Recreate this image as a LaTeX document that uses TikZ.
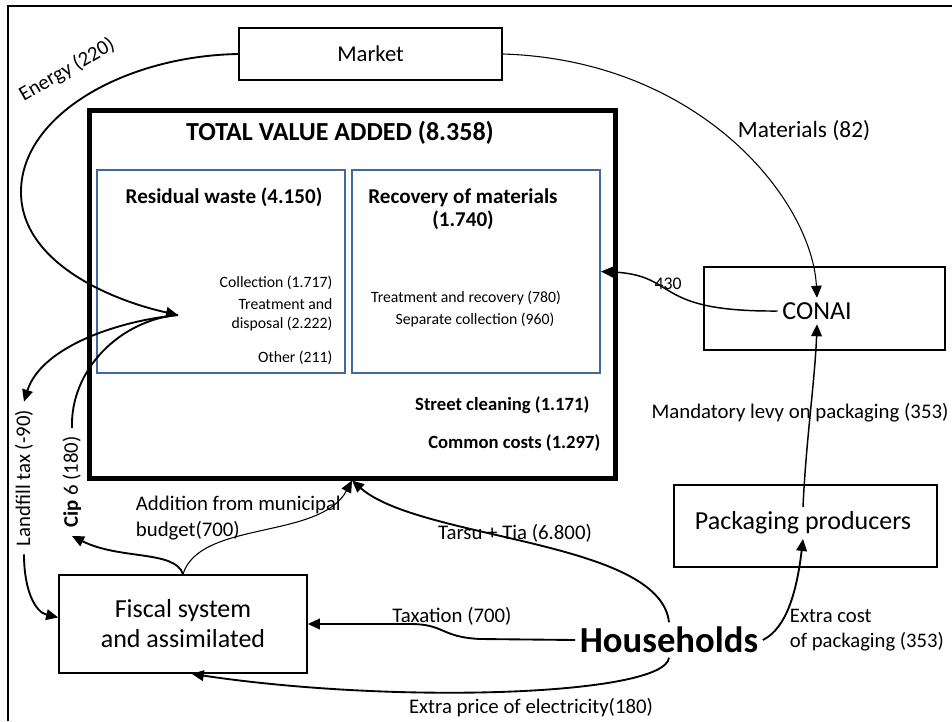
\documentclass[tikz,border=0pt]{standalone}
\usepackage{fontspec}
\setmainfont{Carlito}
\usetikzlibrary{arrows.meta}
\definecolor{boxblue}{RGB}{65,105,160}
\tikzset{
  flow/.style={line width=1.4pt,-{Triangle[length=9pt,width=8pt]}},
  thinflow/.style={line width=0.8pt,-{Triangle[length=9pt,width=8pt]}},
  box/.style={draw,line width=1.1pt,inner sep=0pt},
  subbox/.style={draw=boxblue,line width=1.5pt,minimum width=186pt,minimum height=152.25pt},
  lbl/.style={font=\fontsize{15.6}{20}\selectfont,inner sep=2pt},
  small/.style={font=\fontsize{11.8}{14.25}\selectfont,inner sep=1pt},
  cost/.style={font=\bfseries\fontsize{14}{16}\selectfont,inner sep=1pt,anchor=east},
  big/.style={font=\fontsize{19.5}{22.5}\selectfont},
}
\begin{document}
\begin{tikzpicture}[x=0.75pt,y=-0.75pt]
\useasboundingbox (0,0) rectangle (952,721);
\draw[line width=2.2pt] (8,721) -- (8,6) -- (952,6);

\node[box,minimum width=197.25pt,minimum height=39pt,font=\fontsize{17}{20}\selectfont] (market) at (370.5,54) {Market};

\node[draw,line width=3.75pt,minimum width=394.5pt,minimum height=276pt] (tva) at (352,294) {};
\node[font=\bfseries\fontsize{19.5}{22}\selectfont] (title) at (340,133) {TOTAL VALUE ADDED (8.358)};
\node[subbox] (resid) at (221,271.5) {};
\node[subbox] (recov) at (476,271.5) {};
\node[font=\bfseries\fontsize{15.8}{17}\selectfont] (residtitle) at (224,197) {Residual waste (4.150)};
\node[font=\bfseries\fontsize{15.8}{17}\selectfont,align=center] (recovtitle) at (463,209) {Recovery of materials\\(1.740)};
\node[small,anchor=east] (coll) at (334,283) {Collection (1.717)};
\node[small,anchor=east,align=right] (treat) at (334,314.5) {Treatment and\\disposal (2.222)};
\node[small,anchor=east] (other) at (334,358) {Other (211)};
\node[small] (trec) at (466,298) {Treatment and recovery (780)};
\node[small] (sepc) at (475,320) {Separate collection (960)};
\node[cost] (street) at (591,405) {Street cleaning (1.171)};
\node[cost] (common) at (602,443) {Common costs (1.297)};

\node[box,minimum width=180.75pt,minimum height=62.25pt] (conaibox) at (824.5,308.5) {};
\node[big] (conai) at (817,311) {CONAI};
\node[box,minimum width=197.25pt,minimum height=61.5pt] (packbox) at (805.5,526) {};
\node[big] (pack) at (803,523) {Packaging producers};
\node[box,line width=1.3pt,minimum width=186pt,minimum height=73.5pt,align=center,big] (fiscal) at (183,624) {Fiscal system\\and assimilated};
\node[font=\bfseries\fontsize{27.5}{30}\selectfont] (hh) at (669,640) {Households};

\coordinate (hub) at (178,315);

\node[lbl,rotate=30] (energy) at (67,70) {Energy (220)};
\node[lbl,rotate=90,inner sep=6pt] (landfill) at (24,478) {Landfill tax (-90)};
\node[lbl,rotate=90,inner sep=6pt] (cip) at (72,482) {\textbf{Cip} 6 (180)};
\node[lbl,anchor=west,align=left] (addition) at (133,518) {Addition from municipal\\budget(700)};
\node[lbl] (tarsu) at (515,533) {Tarsu + Tia (6.800)};
\node[lbl] (taxation) at (452,616) {Taxation (700)};
\node[lbl] (price) at (531,708) {Extra price of electricity(180)};
\node[lbl,anchor=west,align=left,font=\fontsize{15.5}{18.75}\selectfont] (extracost) at (787,630) {Extra cost\\of packaging (353)};
\node[lbl] (levy) at (800,413) {Mandatory levy on packaging (353)};
\node[lbl,font=\fontsize{17.5}{20}\selectfont] (materials) at (804,131) {Materials (82)};
\node[font=\fontsize{13.3}{15}\selectfont,inner sep=1pt] (fourthirty) at (668,284) {430};

\draw[flow] (market.west) .. controls (125,56) and (21,115) .. (21,192)
  .. controls (21,262) and (110,300) .. (hub);
\draw[line width=1.4pt] (cip.east) .. controls (70,370) and (120,320) .. (hub);
\draw[flow] (hub) .. controls (110,322) and (40,350) .. (landfill.east);
\draw[flow] (landfill.west) .. controls (24,590) and (35,612) .. (fiscal.177);
\draw[flow] (fiscal.north) .. controls (175,550) and (120,560) .. (cip.west);
\draw[thinflow] (fiscal.north) .. controls (200,520) and (320,540) .. (tva.south);
\draw[flow] (hh.north) .. controls (660,540) and (420,540) .. (tva.south);
\draw[flow] (hh.west) -- (480,639) .. controls (440,637) and (445,624) .. (410,624) -- (fiscal.east);
\draw[flow] (hh.south) .. controls (665,695) and (400,705) .. (fiscal.280);
\draw[flow] (hh.east) .. controls (787,628) and (797,590) .. (pack.south);
\draw[thinflow,line width=1.1pt] (pack.north) .. controls (806,440) and (815,380) .. (conai.south);
\draw[thinflow] (market.east) .. controls (700,60) and (812,200) .. (conai.north);
\draw[thinflow,line width=1.1pt] (conai.west) .. controls (650,312) and (680,275) .. (recov.east);
\end{tikzpicture}
\end{document}
